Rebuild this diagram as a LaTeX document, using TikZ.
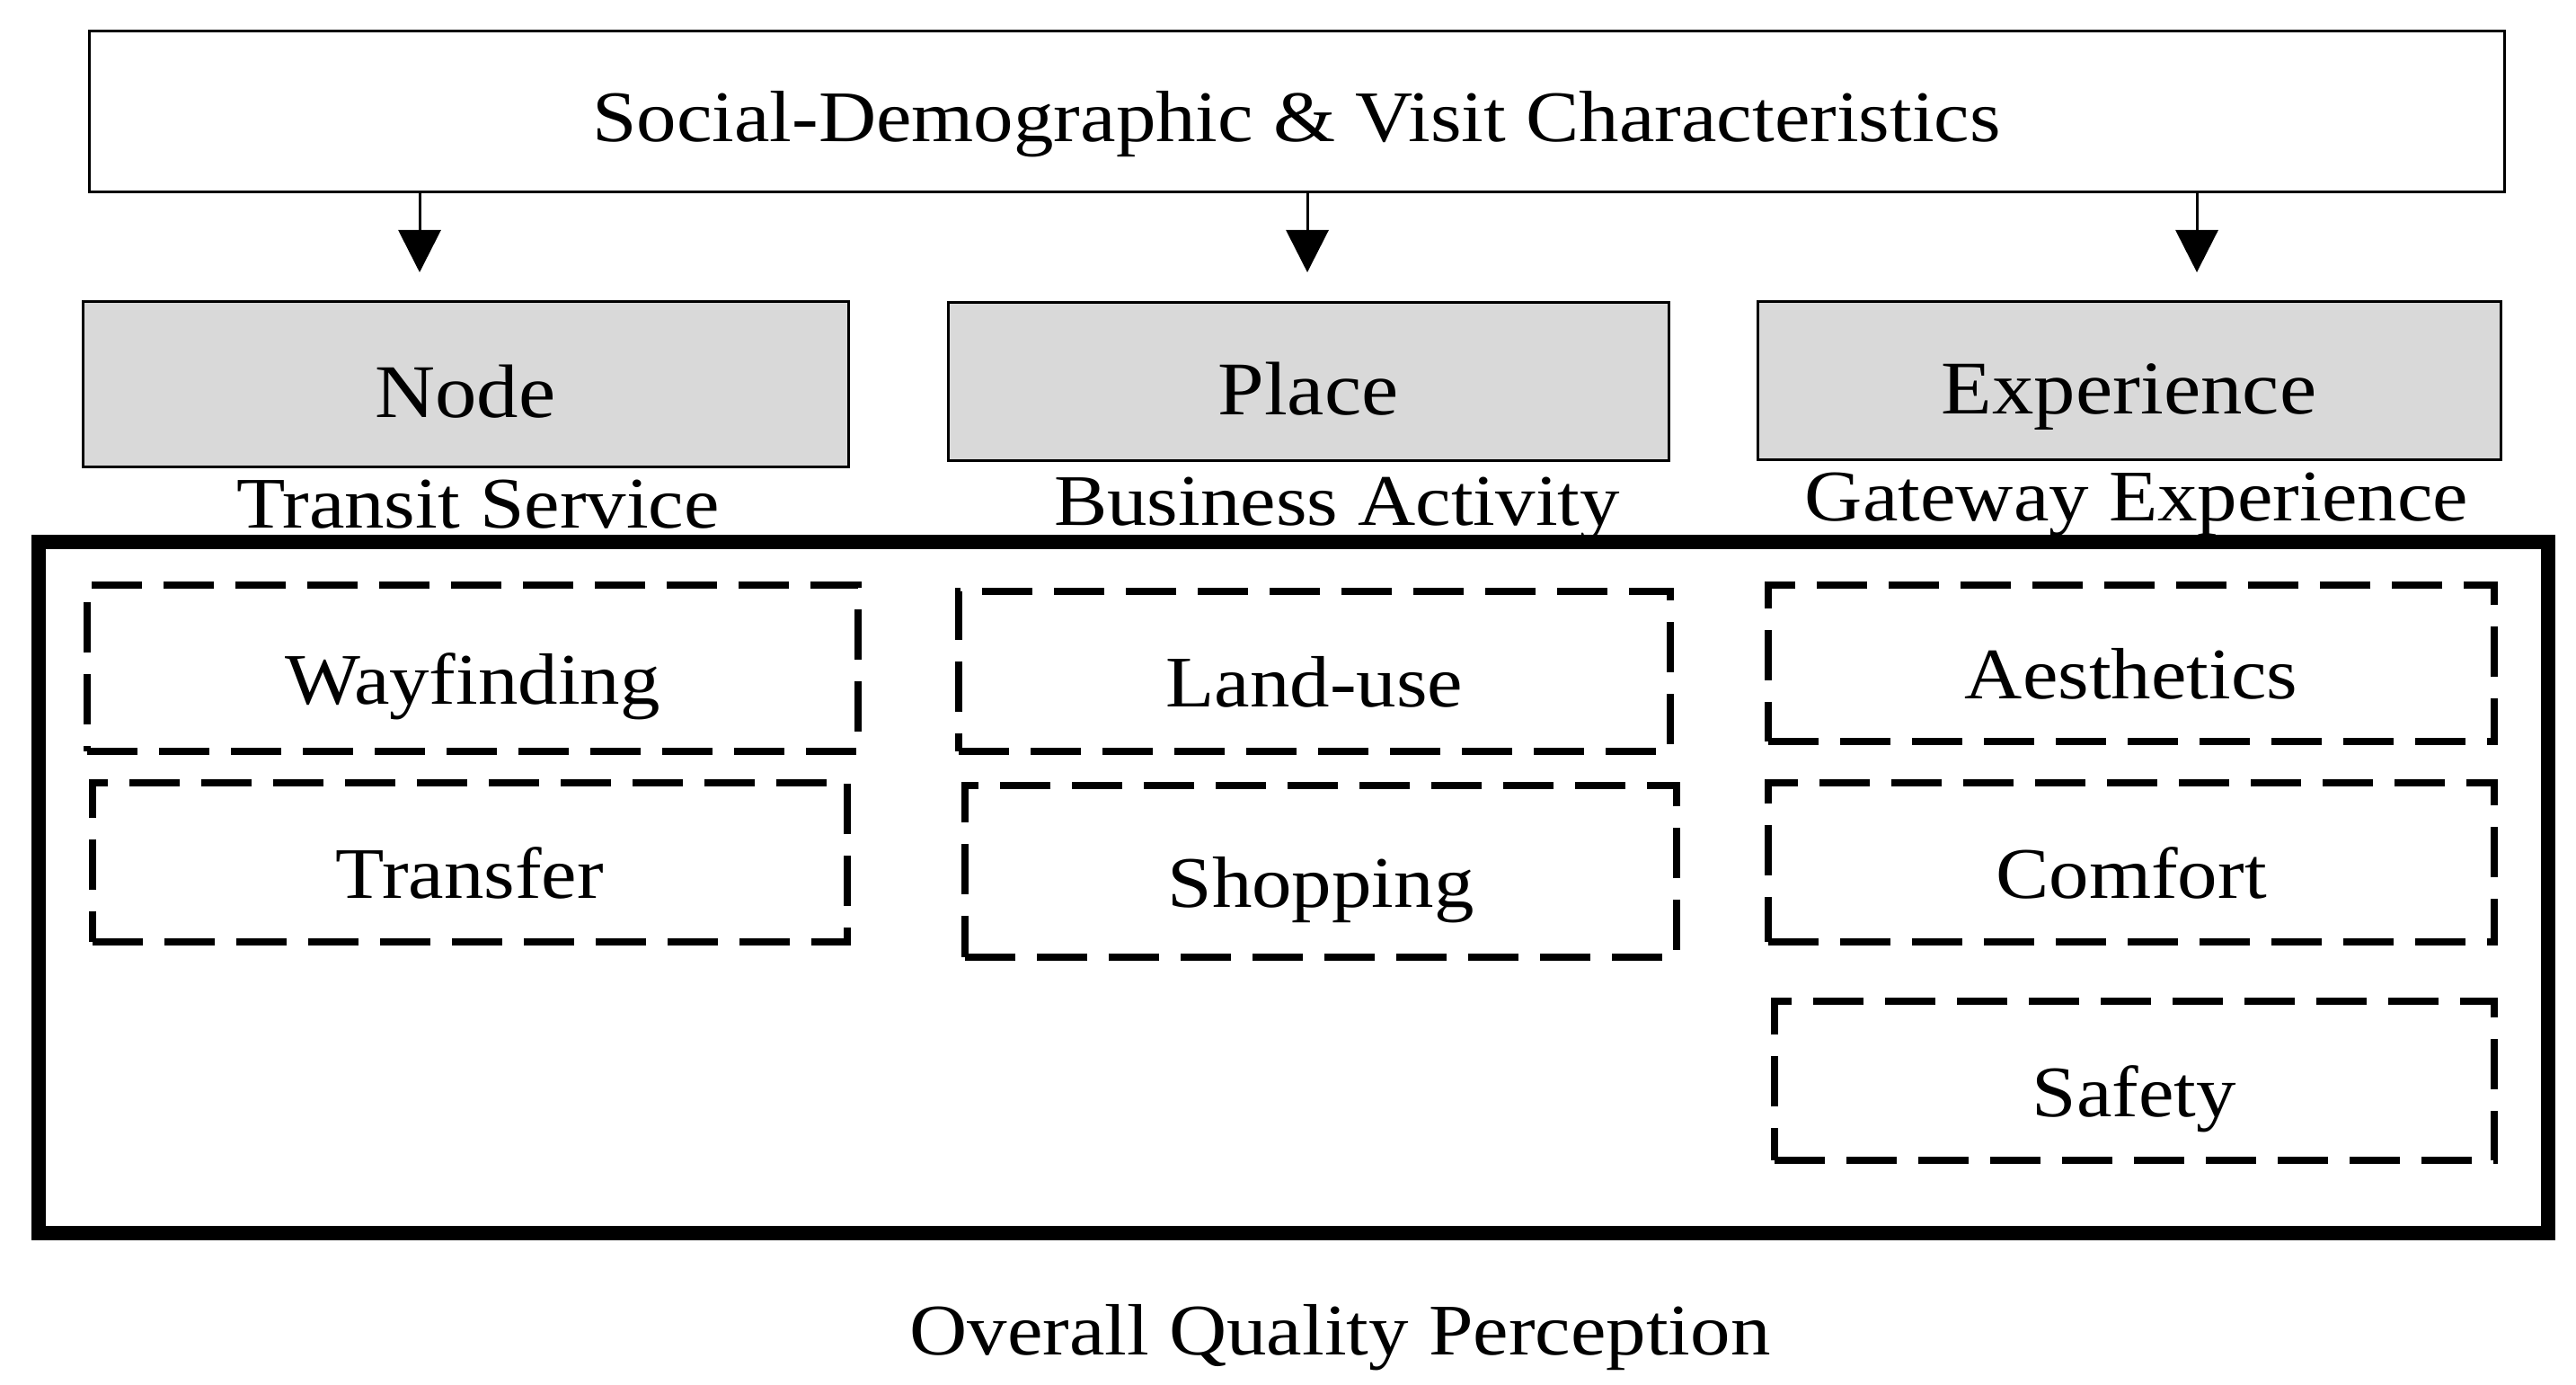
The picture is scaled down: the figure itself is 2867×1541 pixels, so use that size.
\documentclass[tikz,border=0pt]{standalone}
\usepackage{fontspec}
\setmainfont{Liberation Serif}[FakeStretch=1.1]
\usetikzlibrary{arrows.meta,positioning}
\definecolor{boxgray}{HTML}{D9D9D9}
\tikzset{
  topbox/.style={draw, line width=0.3mm, inner sep=0pt, text height=6.7mm, text depth=0pt, font=\fontsize{23}{27}\selectfont},
  groupbox/.style={draw, fill=boxgray, line width=0.3mm, inner sep=0pt, text height=7.4mm, text depth=0pt, font=\fontsize{24}{29}\selectfont},
  itembox/.style={draw, line width=0.75mm, dash pattern=on 5.6mm off 2.4mm, inner sep=0pt, text height=8mm, text depth=0pt, font=\fontsize{23}{27}\selectfont},
  frame/.style={draw, line width=1.6mm, minimum width=279.3mm, minimum height=76.9mm},
  caption/.style={inner sep=0pt, text height=6.5mm, text depth=0pt, font=\fontsize{23}{27}\selectfont},
  arr/.style={-{Triangle[length=4.7mm, width=4.7mm]}, line width=0.3mm}
}
\begin{document}
\begin{tikzpicture}[x=0.1mm, y=-0.1mm]
  \useasboundingbox (0,0) rectangle (2867,1541);

  % Top box
  \node[topbox, minimum width=268.8mm, minimum height=17.9mm] (social) at (1443,124.5) {Social-Demographic \& Visit Characteristics};

  % Arrows
  \coordinate (tipnode) at (467,303);
  \coordinate (tipplace) at (1455,303);
  \coordinate (tipexp) at (2445,303);
  \draw[arr] (social.south -| tipnode) -- (tipnode);
  \draw[arr] (social.south -| tipplace) -- (tipplace);
  \draw[arr] (social.south -| tipexp) -- (tipexp);

  % Outer frame
  \node[frame] (quality) at (1439.5,987.5) {};
  \node[caption, below=6.2mm of quality.south, xshift=5.2mm, anchor=north] (overall) {Overall Quality Perception};

  % Grey boxes
  \node[groupbox, minimum width=85.2mm, minimum height=18.4mm] (node) at (518,428) {Node};
  \node[groupbox, minimum width=80.2mm, minimum height=17.6mm] (place) at (1456,425) {Place};
  \node[groupbox, minimum width=82.7mm, minimum height=17.6mm] (exp) at (2369.5,424) {Experience};

  % Captions
  \node[caption, below=0pt of node, xshift=1.4mm] (transit) {Transit Service};
  \node[caption, below=0.4mm of place, xshift=3.2mm] (business) {Business Activity};
  \node[caption, below=0pt of exp, xshift=0.85mm] (gateway) {Gateway Experience};

  % Dashed boxes
  \node[itembox, minimum width=85.8mm, minimum height=18.5mm] (wayf) at (526,743.5) {Wayfinding};
  \node[itembox, minimum width=84mm, minimum height=17.7mm] (transfer) at (523,959.5) {Transfer};
  \node[itembox, minimum width=79.2mm, minimum height=17.8mm] (landuse) at (1463,747) {Land-use};
  \node[itembox, minimum width=79.2mm, minimum height=19.1mm] (shopping) at (1470,969.5) {Shopping};
  \node[itembox, minimum width=80.8mm, minimum height=17.4mm] (aesth) at (2372,738) {Aesthetics};
  \node[itembox, minimum width=80.8mm, minimum height=17.7mm] (comfort) at (2372,959.5) {Comfort};
  \node[itembox, minimum width=80.1mm, minimum height=17.7mm] (safety) at (2375.5,1202.5) {Safety};
\end{tikzpicture}
\end{document}
